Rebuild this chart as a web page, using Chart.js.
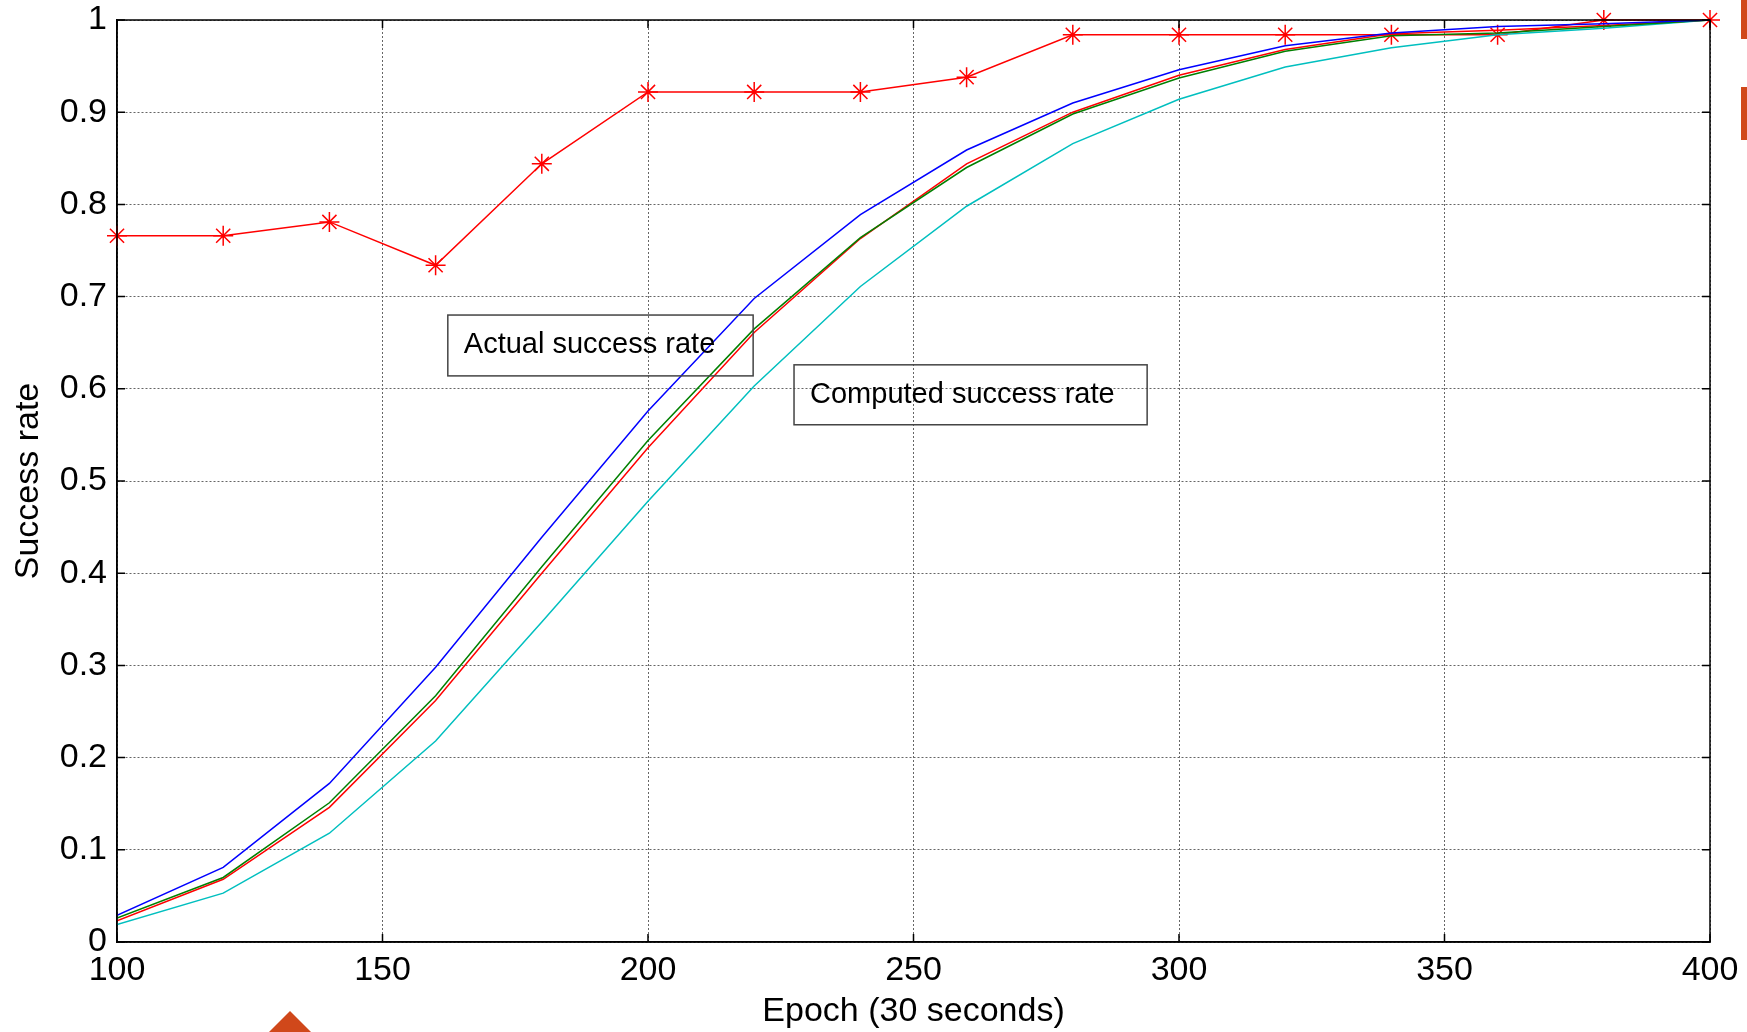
<!DOCTYPE html>
<html>
<head>
<meta charset="utf-8">
<script src="https://cdn.jsdelivr.net/npm/chart.js@4.4.1/dist/chart.umd.min.js"></script>
<style>
  html, body { margin: 0; padding: 0; background: #fff; }
  #wrap { width: 1747px; height: 1032px; position: relative; }
</style>
</head>
<body>
<div id="wrap"><canvas id="rateChart"></canvas></div>
<script>
// epochs on the x axis
const epochs = [100, 120, 140, 160, 180, 200, 220, 240, 260, 280, 300, 320, 340, 360, 380, 400];

// actual success rate (red with asterisks)
const actualRate = [0.766, 0.766, 0.781, 0.734, 0.844, 0.922, 0.922, 0.922, 0.938, 0.984, 0.984, 0.984, 0.984, 0.984, 1.0, 1.0];

// computed success rate curves
const blueRate  = [0.029, 0.081, 0.172, 0.298, 0.439, 0.576, 0.698, 0.789, 0.859, 0.910, 0.946, 0.972, 0.986, 0.993, 0.996, 1.0];
const greenRate = [0.026, 0.070, 0.151, 0.267, 0.407, 0.544, 0.665, 0.764, 0.840, 0.898, 0.937, 0.966, 0.983, 0.986, 0.993, 1.0];
const redRate   = [0.023, 0.068, 0.146, 0.262, 0.400, 0.536, 0.661, 0.763, 0.844, 0.900, 0.940, 0.968, 0.985, 0.989, 0.994, 1.0];
const cyanRate  = [0.019, 0.053, 0.118, 0.218, 0.347, 0.478, 0.603, 0.711, 0.798, 0.866, 0.914, 0.949, 0.970, 0.984, 0.991, 1.0];

// tick labels
const xTickLabels = ['100', '150', '200', '250', '300', '350', '400'];
const yTickLabels = ['0', '0.1', '0.2', '0.3', '0.4', '0.5', '0.6', '0.7', '0.8', '0.9', '1'];

// text boxes, in data units: [x0, x1, yTop, yBottom]
const boxLabels = ['Actual success rate', 'Computed success rate'];
const boxExtents = [[162.3, 219.8, 0.680, 0.614], [227.5, 294.0, 0.626, 0.561]];

const FONT = '"Liberation Sans", Arial, sans-serif';

const pts = (arr) => epochs.map((e, i) => ({ x: e, y: arr[i] }));

function lineSet(label, arr, color) {
    return {
        label: label,
        data: pts(arr),
        borderColor: color,
        backgroundColor: color,
        borderWidth: 1.5,
        pointRadius: 0,
        tension: 0,
        fill: false
    };
}

// frame, inner tick marks, text boxes and the slide decorations
const framePlugin = {
    id: 'frame',
    afterDatasetsDraw(chart) {
        const { ctx, chartArea: a, scales: { x, y } } = chart;
        ctx.save();
        ctx.strokeStyle = '#000';
        ctx.lineWidth = 1.5;
        ctx.strokeRect(a.left, a.top, a.right - a.left, a.bottom - a.top);

        // MATLAB style inward ticks
        const tl = 8;
        ctx.beginPath();
        xTickLabels.forEach(t => {
            const px = x.getPixelForValue(Number(t));
            ctx.moveTo(px, a.bottom); ctx.lineTo(px, a.bottom - tl);
            ctx.moveTo(px, a.top); ctx.lineTo(px, a.top + tl);
        });
        yTickLabels.forEach(t => {
            const py = y.getPixelForValue(Number(t));
            ctx.moveTo(a.left, py); ctx.lineTo(a.left + tl, py);
            ctx.moveTo(a.right, py); ctx.lineTo(a.right - tl, py);
        });
        ctx.stroke();

        // text boxes (transparent, lines show through)
        ctx.font = '29px ' + FONT;
        ctx.textBaseline = 'middle';
        ctx.textAlign = 'left';
        boxLabels.forEach((txt, i) => {
            const [x0, x1, yt, yb] = boxExtents[i];
            const l = x.getPixelForValue(x0), r = x.getPixelForValue(x1);
            const t = y.getPixelForValue(yt), b = y.getPixelForValue(yb);
            ctx.strokeStyle = '#444';
            ctx.lineWidth = 1.5;
            ctx.strokeRect(l, t, r - l, b - t);
            ctx.fillStyle = '#000';
            ctx.fillText(txt, l + 16, (t + b) / 2);
        });
        ctx.restore();
    },
    afterDraw(chart) {
        const ctx = chart.ctx;
        ctx.save();
        ctx.fillStyle = '#d0481a';
        ctx.fillRect(1741, 0, 6, 39);
        ctx.fillRect(1741, 87, 6, 53);
        ctx.beginPath();
        ctx.moveTo(290, 1011);
        ctx.lineTo(311, 1032);
        ctx.lineTo(269, 1032);
        ctx.closePath();
        ctx.fill();
        ctx.restore();
    }
};

const ctx = document.getElementById('rateChart').getContext('2d');
const rateChart = new Chart(ctx, {
    type: 'line',
    data: {
        datasets: [
            lineSet('Computed 1', blueRate, '#0000ff'),
            lineSet('Computed 2', greenRate, '#008000'),
            lineSet('Computed 3', redRate, '#ff0000'),
            lineSet('Computed 4', cyanRate, '#00bfbf'),
            {
                label: 'Actual success rate',
                data: pts(actualRate),
                borderColor: '#ff0000',
                backgroundColor: '#ff0000',
                borderWidth: 1.5,
                pointStyle: 'star',
                pointRadius: 10,
                pointBorderWidth: 1.5,
                tension: 0,
                fill: false,
                clip: false
            }
        ]
    },
    options: {
        responsive: true,
        maintainAspectRatio: false,
        animation: false,
        layout: { padding: { left: 0, right: 37, top: 20, bottom: 0 } },
        plugins: {
            legend: { display: false },
            tooltip: { enabled: false }
        },
        scales: {
            x: {
                type: 'linear',
                min: 100,
                max: 400,
                afterBuildTicks: (s) => { s.ticks = xTickLabels.map(v => ({ value: Number(v) })); },
                afterFit: (s) => { s.height = 90; s.paddingLeft = 0; s.paddingRight = 0; },
                ticks: {
                    callback: (v) => String(v),
                    color: '#000',
                    padding: 8,
                    maxRotation: 0,
                    font: { family: FONT, size: 34 }
                },
                grid: { color: '#666', lineWidth: 1, drawTicks: false },
                border: { display: true, color: '#000', width: 1.5, dash: [2, 2] },
                title: {
                    display: true,
                    text: 'Epoch (30 seconds)',
                    color: '#000',
                    padding: { top: 0, bottom: 0 },
                    font: { family: FONT, size: 34 }
                }
            },
            y: {
                min: 0,
                max: 1,
                afterBuildTicks: (s) => { s.ticks = yTickLabels.map(v => ({ value: Number(v) })); },
                afterFit: (s) => { s.width = 117; s.paddingTop = 0; s.paddingBottom = 0; },
                ticks: {
                    callback: (v) => yTickLabels.find(t => Number(t) === v) || String(v),
                    color: '#000',
                    padding: 10,
                    font: { family: FONT, size: 34 }
                },
                grid: { color: '#666', lineWidth: 1, drawTicks: false },
                border: { display: true, color: '#000', width: 1.5, dash: [2, 2] },
                title: {
                    display: true,
                    text: 'Success rate',
                    color: '#000',
                    padding: { top: 8, bottom: 0 },
                    font: { family: FONT, size: 34 }
                }
            }
        }
    },
    plugins: [framePlugin]
});
</script>
</body>
</html>
